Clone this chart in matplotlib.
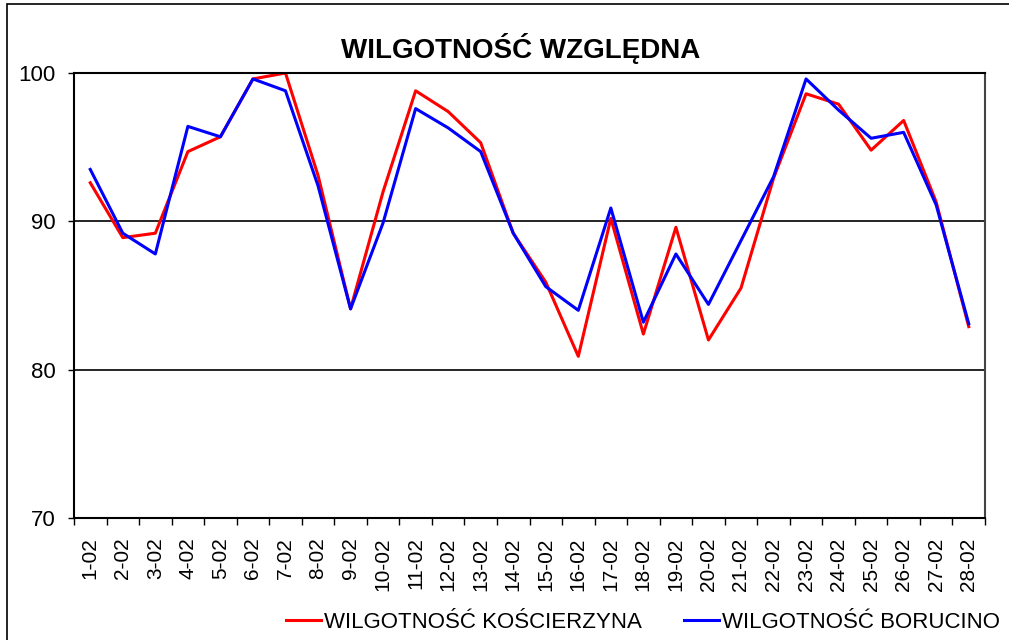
import matplotlib.pyplot as plt
from matplotlib.patches import Rectangle

plt.rcParams['font.family'] = ['Liberation Sans', 'DejaVu Sans']

# days of February
days = [f"{d}-02" for d in range(1, 29)]

# relative humidity [%]
koscierzyna = [92.6, 88.9, 89.2, 94.7, 95.7, 99.6, 100.0, 93.1, 84.1, 92.0,
               98.8, 97.4, 95.3, 89.2, 85.9, 80.9, 90.2, 82.4, 89.6, 82.0,
               85.5, 92.9, 98.6, 97.9, 94.8, 96.8, 91.3, 82.9]
borucino = [93.5, 89.2, 87.8, 96.4, 95.7, 99.6, 98.8, 92.4, 84.1, 89.9,
            97.6, 96.3, 94.7, 89.2, 85.6, 84.0, 90.9, 83.2, 87.8, 84.4,
            88.7, 93.0, 99.6, 97.5, 95.6, 96.0, 91.1, 83.1]

fig = plt.figure(figsize=(10.09, 6.40), dpi=100)
ax = fig.add_axes([74 / 1009, 1 - 518 / 640, 911 / 1009, 445 / 640])

x = list(range(len(days)))
ax.plot(x, koscierzyna, color="#ff0000", lw=2.2, label="WILGOTNOŚĆ KOŚCIERZYNA")
ax.plot(x, borucino, color="#0000ff", lw=2.2, label="WILGOTNOŚĆ BORUCINO")

ax.set_xlim(-0.5, len(days) - 0.5)
ax.set_ylim(70, 100)
ax.set_yticks([70, 80, 90, 100])
ax.tick_params(axis="y", labelsize=16, length=4.5, width=1, pad=9)
ax.set_xticks(x)
ax.set_xticklabels(days, rotation=90, fontsize=15)
ax.set_xticks([i - 0.5 for i in range(len(days) + 1)], minor=True)
ax.tick_params(axis="x", which="major", length=0, pad=14)
ax.tick_params(axis="x", which="minor", length=5, width=1)

ax.grid(axis="y", color="black", lw=1.2)
for s in ax.spines.values():
    s.set_color("black")
    s.set_linewidth(1.5)
ax.spines["right"].set_color("#444444")

fig.text(0.516, 1 - 48 / 640, "WILGOTNOŚĆ WZGLĘDNA", ha="center", va="center",
         fontsize=20, fontweight="bold")

fig.legend(loc="center", bbox_to_anchor=(0.637, 1 - 622 / 640), ncol=2,
           frameon=False, fontsize=16, handlelength=1.6, handletextpad=0.1,
           columnspacing=1.9)

fig.patches.append(Rectangle((7 / 1009, -0.1), 1.2, 1 - 4 / 640 + 0.1,
                             transform=fig.transFigure, fill=False,
                             edgecolor="black", lw=1.2))

fig.savefig("out.png", dpi=100)
